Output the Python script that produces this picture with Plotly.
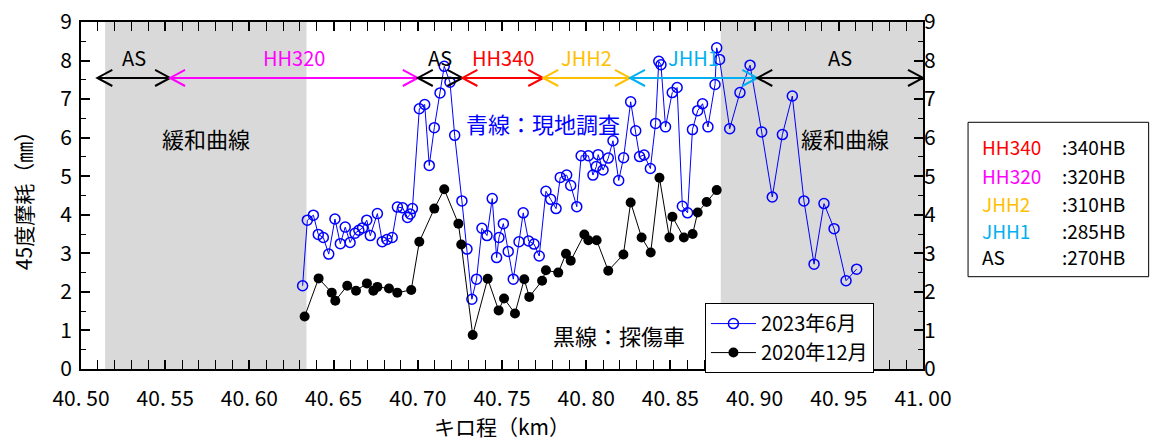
import plotly.graph_objects as go

# ---------------- data ----------------
blue_km = [40.6316, 40.6344, 40.6380, 40.6409, 40.6439, 40.6471, 40.6508, 40.6540, 40.6569, 40.6598,
           40.6627, 40.6650, 40.6672, 40.6697, 40.6718, 40.6760, 40.6789, 40.6817, 40.6848, 40.6879,
           40.6910, 40.6939, 40.6955, 40.6968, 40.7009, 40.7041, 40.7068, 40.7098, 40.7132, 40.7157,
           40.7191, 40.7219, 40.7262, 40.7292, 40.7321, 40.7349, 40.7381, 40.7411, 40.7442, 40.7468,
           40.7482, 40.7508, 40.7537, 40.7567, 40.7601, 40.7626, 40.7658, 40.7690, 40.7721, 40.7761,
           40.7789, 40.7821, 40.7846, 40.7884, 40.7908, 40.7944, 40.7970, 40.8013, 40.8040, 40.8060,
           40.8071, 40.8100, 40.8131, 40.8159, 40.8193, 40.8222, 40.8264, 40.8294, 40.8317, 40.8344,
           40.8381, 40.8412, 40.8431, 40.8444, 40.8471, 40.8511, 40.8540, 40.8571, 40.8602, 40.8631,
           40.8662, 40.8691, 40.8723, 40.8765, 40.8775, 40.8792, 40.8852, 40.8913, 40.8973, 40.9042,
           40.9105, 40.9165, 40.9224, 40.9293, 40.9353, 40.9412, 40.9472, 40.9543, 40.9606]
blue_mm = [2.16, 3.86, 3.99, 3.49, 3.41, 2.98, 3.89, 3.25, 3.68, 3.28,
           3.52, 3.60, 3.66, 3.86, 3.46, 4.03, 3.30, 3.36, 3.41, 4.20,
           4.18, 3.93, 4.02, 4.16, 6.75, 6.86, 5.28, 6.26, 7.16, 7.85,
           7.44, 6.06, 4.36, 3.11, 1.81, 2.33, 3.65, 3.46, 4.42, 2.89,
           3.41, 3.77, 3.05, 2.33, 3.30, 4.05, 3.32, 3.24, 2.93, 4.61,
           4.40, 4.16, 4.97, 5.03, 4.76, 4.21, 5.53, 5.53, 5.03, 5.25,
           5.56, 5.16, 5.47, 5.92, 4.89, 5.48, 6.93, 6.18, 5.51, 5.55,
           5.20, 6.37, 7.98, 7.89, 6.28, 7.17, 7.30, 4.22, 4.05, 6.21,
           6.70, 6.88, 6.28, 7.38, 8.33, 8.03, 6.23, 7.17, 7.88, 6.15,
           4.46, 6.08, 7.08, 4.36, 2.72, 4.29, 3.64, 2.29, 2.59]

black_km = [40.6328, 40.6411, 40.6489, 40.6510, 40.6581, 40.6633, 40.6698, 40.6736, 40.6760, 40.6829,
            40.6878, 40.6961, 40.7009, 40.7098, 40.7157, 40.7241, 40.7258, 40.7326, 40.7415, 40.7480,
            40.7512, 40.7577, 40.7632, 40.7662, 40.7738, 40.7761, 40.7834, 40.7880, 40.7908, 40.7989,
            40.8013, 40.8062, 40.8131, 40.8221, 40.8264, 40.8329, 40.8383, 40.8435, 40.8494, 40.8512,
            40.8580, 40.8632, 40.8662, 40.8715, 40.8775]
black_mm = [1.36, 2.35, 1.98, 1.77, 2.16, 2.03, 2.22, 2.03, 2.13, 2.09,
            1.98, 2.05, 3.30, 4.16, 4.66, 3.77, 3.23, 0.88, 2.34, 1.52,
            1.83, 1.44, 2.33, 1.87, 2.29, 2.56, 2.50, 2.99, 2.81, 3.49,
            3.34, 3.34, 2.55, 2.97, 4.32, 3.41, 3.02, 4.96, 3.41, 3.95,
            3.41, 3.50, 4.06, 4.33, 4.64]

series_names = ["2023年6月", "2020年12月"]

# rail-type sections along the top
seg_names = ["AS", "HH320", "AS", "HH340", "JHH2", "JHH1", "AS"]
seg_start = [40.5097, 40.5529, 40.7000, 40.7265, 40.7745, 40.8260, 40.9016]
seg_end = [40.5529, 40.7000, 40.7265, 40.7745, 40.8260, 40.9016, 41.0000]
seg_level = 7.55

# transition-curve (gray) zones
curve_start = [40.5143, 40.8799]
curve_end = [40.6339, 41.0000]
curve_label = "緩和曲線"

# hardness table
hb_names = ["HH340", "HH320", "JHH2", "JHH1", "AS"]
hb_values = [":340HB", ":320HB", ":310HB", ":285HB", ":270HB"]

x_ticks = [40.50, 40.55, 40.60, 40.65, 40.70, 40.75, 40.80, 40.85, 40.90, 40.95, 41.00]
x_ticktext = ["40. 50", "40. 55", "40. 60", "40. 65", "40. 70", "40. 75", "40. 80",
              "40. 85", "40. 90", "40. 95", "41. 00"]
y_ticks = [0, 1, 2, 3, 4, 5, 6, 7, 8, 9]

# ---------------- styling ----------------
FONT = "Noto Sans CJK JP"
seg_colors = {"AS": "black", "HH320": "#FF00FF", "HH340": "#FF0000",
              "JHH2": "#FFC000", "JHH1": "#00B0F0"}

fig = go.Figure()

fig.add_trace(go.Scatter(
    x=blue_km, y=blue_mm, name=series_names[0], mode="lines+markers",
    line=dict(color="#0000FF", width=1),
    marker=dict(symbol="circle-open", size=10, color="#0000FF", line=dict(width=1.5)),
))
fig.add_trace(go.Scatter(
    x=black_km, y=black_mm, name=series_names[1], mode="lines+markers",
    line=dict(color="black", width=1),
    marker=dict(symbol="circle", size=10, color="black"),
))
# empty trace to activate right-hand axis
fig.add_trace(go.Scatter(x=[], y=[], yaxis="y2", showlegend=False, hoverinfo="skip"))

shapes = []
for s, e in zip(curve_start, curve_end):
    shapes.append(dict(type="rect", xref="x", yref="y", x0=s, x1=e, y0=0, y1=9,
                       fillcolor="#D9D9D9", line=dict(width=0), layer="below"))

dx = 0.0089
dy = 0.21
for name, s, e in zip(seg_names, seg_start, seg_end):
    c = seg_colors[name]
    shapes.append(dict(type="line", xref="x", yref="y", x0=s, x1=e, y0=seg_level, y1=seg_level,
                       line=dict(color=c, width=2)))
    shapes.append(dict(type="path", xref="x", yref="y",
                       path=f"M{s+dx},{seg_level+dy} L{s},{seg_level} L{s+dx},{seg_level-dy}",
                       line=dict(color=c, width=2)))
    shapes.append(dict(type="path", xref="x", yref="y",
                       path=f"M{e-dx},{seg_level+dy} L{e},{seg_level} L{e-dx},{seg_level-dy}",
                       line=dict(color=c, width=2)))

# hardness table box
shapes.append(dict(type="rect", xref="paper", yref="paper", x0=1.0535, x1=1.268, y0=0.266, y1=0.711,
                   line=dict(color="black", width=1), fillcolor="white"))

annotations = []
for name, s, e in zip(seg_names, seg_start, seg_end):
    annotations.append(dict(x=(s + e) / 2, y=8.08, xref="x", yref="y", text=name, showarrow=False,
                            font=dict(family=FONT, size=20, color=seg_colors[name]),
                            xanchor="center", yanchor="middle"))

annotations.append(dict(x=40.5742, y=6.0, xref="x", yref="y", text=curve_label, showarrow=False,
                        font=dict(family=FONT, size=22, color="black")))
annotations.append(dict(x=40.9537, y=6.0, xref="x", yref="y", text=curve_label, showarrow=False,
                        font=dict(family=FONT, size=22, color="black")))
annotations.append(dict(x=40.7741, y=6.38, xref="x", yref="y", text="青線：現地調査", showarrow=False,
                        font=dict(family=FONT, size=22, color="#0000FF")))
annotations.append(dict(x=40.8195, y=0.88, xref="x", yref="y", text="黒線：探傷車", showarrow=False,
                        font=dict(family=FONT, size=22, color="black")))

row_y = [0.640, 0.5586, 0.477, 0.400, 0.3234]
for name, val, ry in zip(hb_names, hb_values, row_y):
    annotations.append(dict(x=1.0677, y=ry, xref="paper", yref="paper", text=name, showarrow=False,
                            xanchor="left", yanchor="middle",
                            font=dict(family=FONT, size=19, color=seg_colors[name])))
    annotations.append(dict(x=1.1627, y=ry, xref="paper", yref="paper", text=val, showarrow=False,
                            xanchor="left", yanchor="middle",
                            font=dict(family=FONT, size=19, color="black")))

fig.update_layout(
    width=1151, height=441,
    margin=dict(l=81, r=228, t=22, b=72, autoexpand=False),
    paper_bgcolor="white", plot_bgcolor="white",
    font=dict(family=FONT, size=20, color="black"),
    shapes=shapes, annotations=annotations,
    showlegend=True,
    legend=dict(x=0.741, y=0.190, xanchor="left", yanchor="top",
                bgcolor="white", bordercolor="black", borderwidth=1,
                font=dict(family=FONT, size=20), itemwidth=45, tracegroupgap=0),
    xaxis=dict(range=[40.5, 41.0], tickmode="array", tickvals=x_ticks, ticktext=x_ticktext,
               ticks="inside", ticklen=9, tickwidth=1.5, tickcolor="black",
               showline=True, linecolor="black", linewidth=2, mirror="allticks",
               showgrid=False, zeroline=False, automargin=False,
               ticklabelstandoff=10, ticklabeloverflow="allow",
               minor=dict(tickmode="linear", tick0=40.5, dtick=0.01, ticks="inside", ticklen=5,
                          tickcolor="black", tickwidth=1),
               title=dict(text="キロ程（km）", font=dict(family=FONT, size=21), standoff=20),
               tickfont=dict(family=FONT, size=21)),
    yaxis=dict(range=[0, 9], tickmode="array", tickvals=y_ticks,
               ticks="inside", ticklen=9, tickwidth=1.5, tickcolor="black",
               showline=True, linecolor="black", linewidth=2, mirror=True,
               showgrid=False, zeroline=False, automargin=False,
               ticklabelstandoff=3, ticklabeloverflow="allow",
               minor=dict(tickmode="linear", tick0=0, dtick=0.5, ticks="inside", ticklen=5,
                          tickcolor="black", tickwidth=1),
               title=dict(text="45度摩耗（㎜）", font=dict(family=FONT, size=21), standoff=22),
               tickfont=dict(family=FONT, size=21)),
    yaxis2=dict(range=[0, 9], overlaying="y", side="right", tickmode="array", tickvals=y_ticks,
                ticks="inside", ticklen=9, tickwidth=1.5, tickcolor="black",
                showline=False, showgrid=False, zeroline=False, automargin=False,
                ticklabeloverflow="allow",
                minor=dict(tickmode="linear", tick0=0, dtick=0.5, ticks="inside", ticklen=5,
                           tickcolor="black", tickwidth=1),
                tickfont=dict(family=FONT, size=21)),
)

fig.write_html("out.html", config={"displayModeBar": False},
               post_script="document.body.style.margin='0px';")
